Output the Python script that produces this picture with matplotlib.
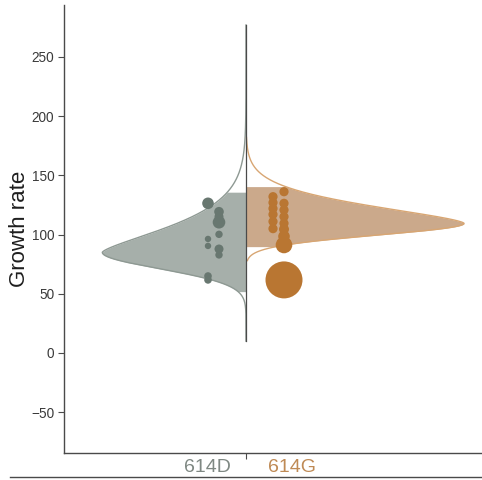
import numpy as np
import matplotlib
matplotlib.use("Agg")
import matplotlib.pyplot as plt
from matplotlib.lines import Line2D

# ---- data -----------------------------------------------------------------
groups = ["614D", "614G"]

# per-study growth rates and their weights (marker radius, px)
d_rate = [126.4, 119.3, 115.1, 110.4, 100.2, 96.3, 90.4, 87.8, 82.8, 65.0, 61.7]
d_weight = [5.8, 4.8, 4.5, 6.3, 3.7, 3.2, 3.2, 4.5, 3.7, 3.8, 3.8]
g_rate = [132.0, 127.0, 122.0, 117.0, 111.0, 105.0,
          136.2, 126.4, 120.8, 115.1, 109.5, 104.5, 98.5, 91.2, 61.7]
g_weight = [4.6, 4.6, 4.6, 4.6, 4.6, 4.6,
            4.6, 4.6, 4.6, 4.6, 4.6, 5.0, 5.8, 8.3, 18.5]

# pooled estimate density: mode, lower/upper scale, lower/upper shape,
# support of the curve and the shaded credible interval
d_mode, g_mode = 85.0, 109.5
d_scale = (19.5, 30.5)
g_scale = (14.0, 21.7)
d_shape = (2.0, 1.4)
g_shape = (2.0, 1.5)
d_support = (10.0, 277.0)
g_support = (78.0, 182.0)
d_interval = (51.8, 135.8)
g_interval = (89.8, 140.5)

yticks = [-50, 0, 50, 100, 150, 200, 250]

# ---- style ----------------------------------------------------------------
grey_fill, grey_line, grey_dot, grey_txt = "#a6afaa", "#8e9993", "#687770", "#7f8883"
orng_fill, orng_line, orng_dot, orng_txt = "#cba98b", "#d8a673", "#b97632", "#bf8a55"
ink = "#4a4a4a"

plt.rcParams["font.family"] = ["Liberation Sans", "DejaVu Sans"]

W, H, DPI = 482, 480, 100
fig = plt.figure(figsize=(W / DPI, H / DPI), dpi=DPI)
ax = fig.add_axes([64 / W, (H - 453) / H, (W - 64) / W, (453 - 5) / H])


def split_density(v, mode, scale, shape, peak):
    v = np.asarray(v, dtype=float)
    lower = v < mode
    s = np.where(lower, scale[0], scale[1])
    p = np.where(lower, shape[0], shape[1])
    return peak * np.exp(-(np.abs(v - mode) / s) ** p)


def half_violin(mode, scale, shape, support, interval, peak, side, fill, line):
    v = np.linspace(support[0], support[1], 800)
    w = split_density(v, mode, scale, shape, peak) * side
    ax.plot(w, v, color=line, lw=1.0, zorder=3)
    vi = np.linspace(interval[0], interval[1], 400)
    wi = split_density(vi, mode, scale, shape, peak) * side
    ax.fill_betweenx(vi, 0, wi, color=fill, lw=0, zorder=2)


half_violin(d_mode, d_scale, d_shape, d_support, d_interval, 1.437, -1,
            grey_fill, grey_line)
half_violin(g_mode, g_scale, g_shape, g_support, g_interval, 2.18, 1,
            orng_fill, orng_line)

# centre line spanning the full support of the first group
ax.plot([0, 0], list(d_support), color=ink, lw=0.9, zorder=4)

# study points, placed in two narrow lanes beside the centre line
d_lane = [0, 1, 1, 1, 1, 0, 0, 1, 1, 0, 0]
g_lane = [0, 0, 0, 0, 0, 0, 1, 1, 1, 1, 1, 1, 1, 1, 1]
d_x = [-0.38 if l == 0 else -0.27 for l in d_lane]
g_x = [0.27 if l == 0 else 0.38 for l in g_lane]
to_area = lambda ws: [(1.44 * w) ** 2 for w in ws]
ax.scatter(d_x, d_rate, s=to_area(d_weight), color=grey_dot, lw=0, zorder=5)
ax.scatter(g_x, g_rate, s=to_area(g_weight), color=orng_dot, lw=0, zorder=5)

# ---- axes -----------------------------------------------------------------
ax.set_xlim(-1.82, 2.36)
ax.set_ylim(-84.5, 293.9)
ax.set_yticks(yticks)
ax.set_yticklabels([str(t).replace("-", "\u2212") for t in yticks])
ax.set_xticks([0])
ax.set_xticklabels([""])
for s in ("top", "right"):
    ax.spines[s].set_visible(False)
for s in ("left", "bottom"):
    ax.spines[s].set_color(ink)
    ax.spines[s].set_linewidth(1.0)
ax.tick_params(axis="both", colors=ink, labelsize=9.8, length=4, width=0.8,
               pad=3)
ax.tick_params(axis="y", labelcolor="#3a3a3a")
ax.set_ylabel("Growth rate", fontsize=16, color="#1e1e1e", labelpad=1)

for name, xpos, col in ((groups[0], -0.39, grey_txt), (groups[1], 0.46, orng_txt)):
    ax.annotate(name, xy=(xpos, 0), xycoords=("data", "axes fraction"),
                xytext=(0, -4.5), textcoords="offset points", ha="center",
                va="top", fontsize=14, color=col,
                family=["Liberation Sans", "DejaVu Sans"])

# baseline under the category labels
fig.add_artist(Line2D([10 / W, 1.0], [1 - 477 / H] * 2, color=ink, lw=1.0))

fig.savefig("out.png", dpi=DPI)
